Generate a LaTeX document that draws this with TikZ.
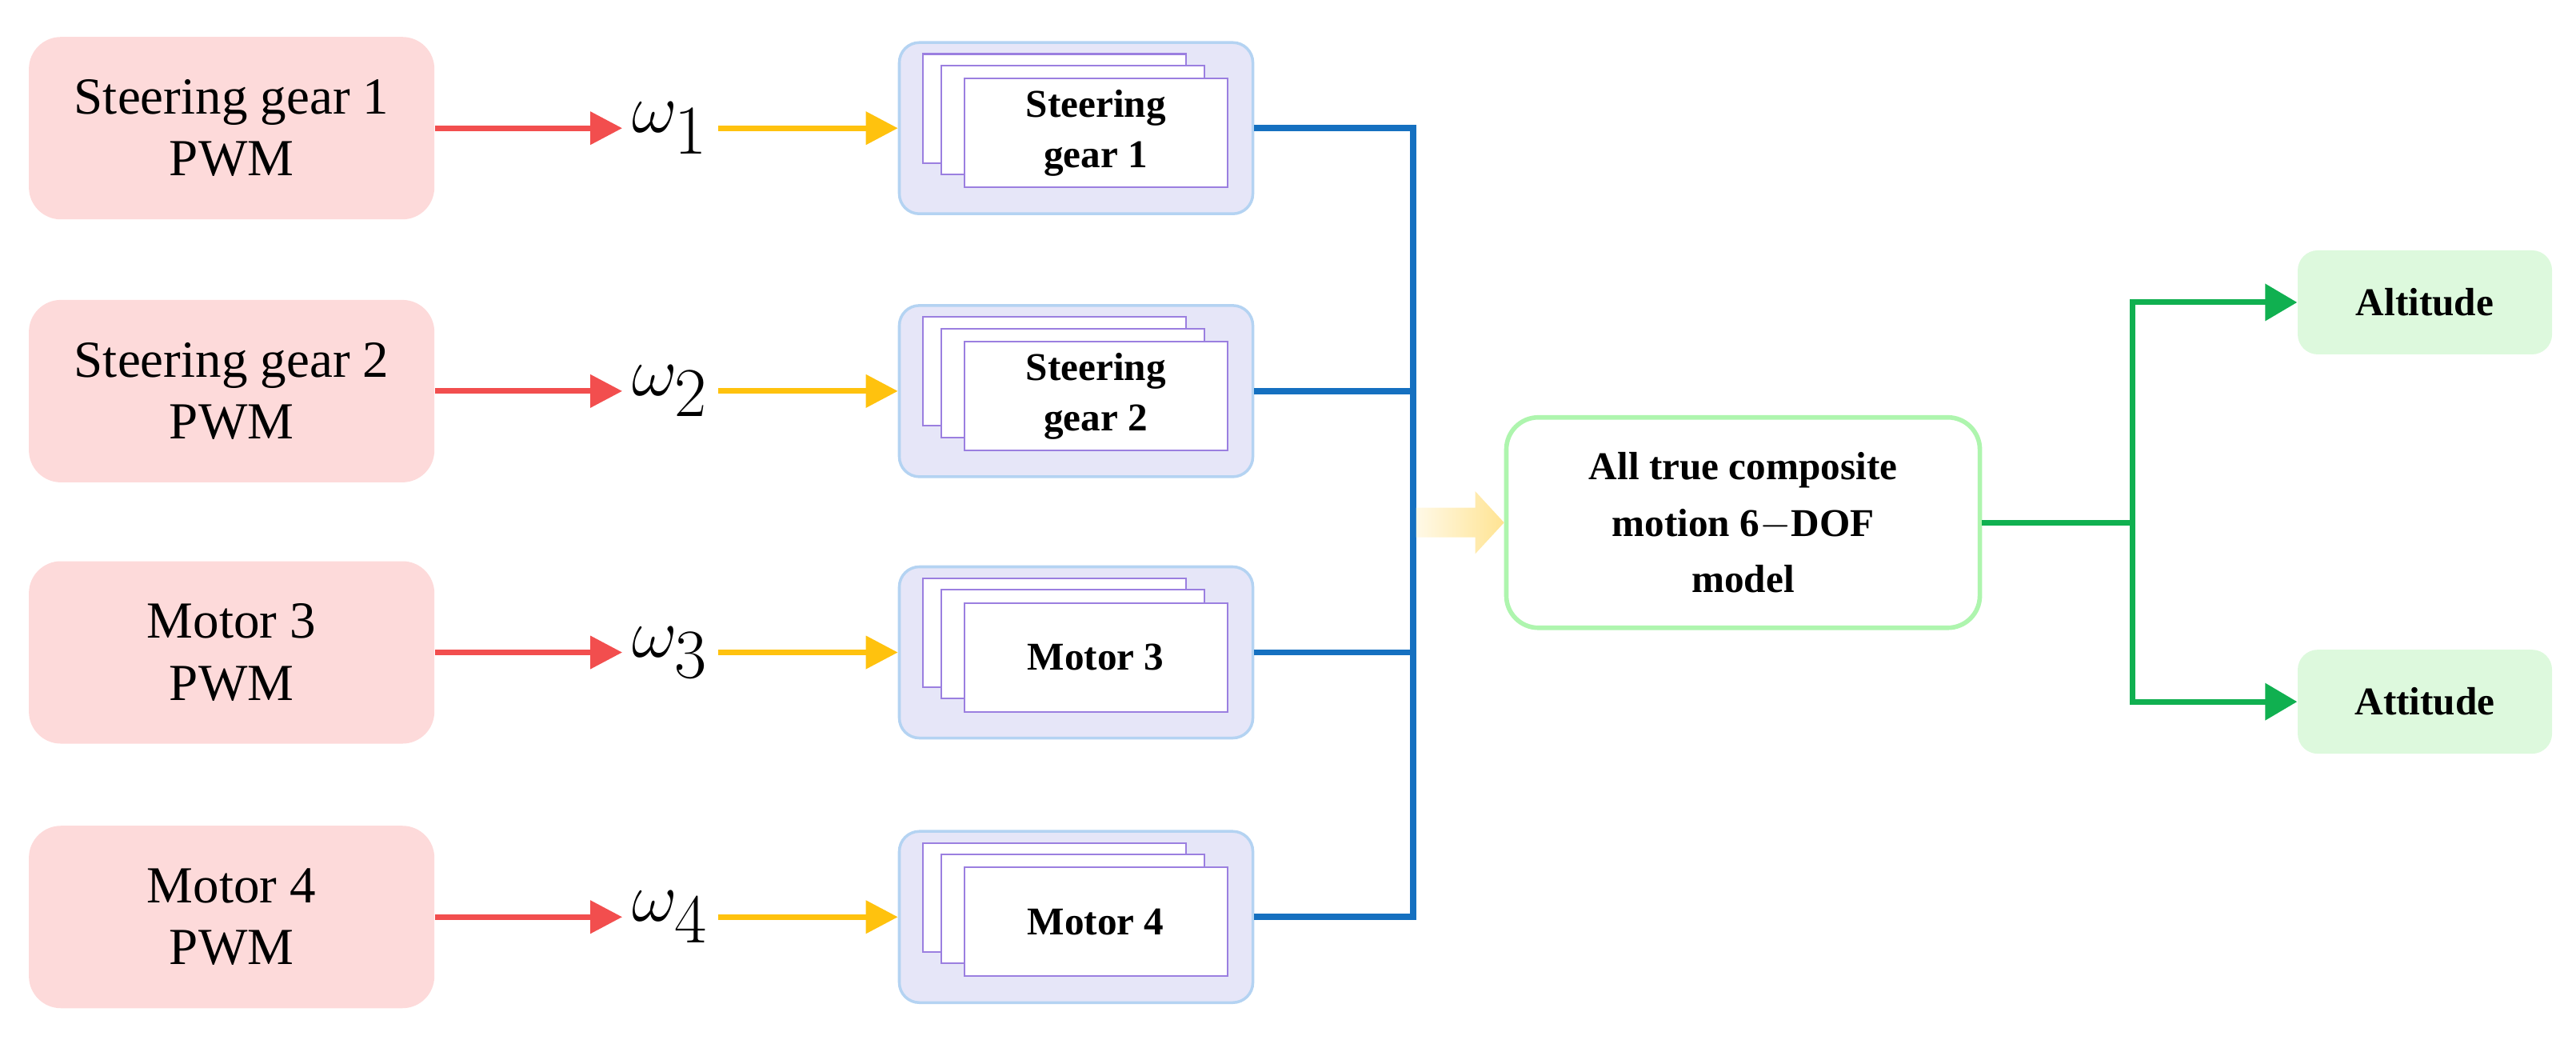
\documentclass[tikz,border=0pt]{standalone}
\usepackage{fontspec}
\setmainfont{Liberation Serif}
\usetikzlibrary{arrows.meta,shadings}
\definecolor{pinkbg}{HTML}{FDDADA}
\definecolor{redar}{HTML}{F24E4E}
\definecolor{yelar}{HTML}{FFC20E}
\definecolor{bluebg}{HTML}{E6E6F8}
\definecolor{blueed}{HTML}{B4D3F2}
\definecolor{purp}{HTML}{9B7FE0}
\definecolor{blueln}{HTML}{1570C0}
\definecolor{greenln}{HTML}{10B050}
\definecolor{greened}{HTML}{AEF5AE}
\definecolor{greenbg}{HTML}{DDF9DD}
\begin{document}
\begin{tikzpicture}[x=0.2054mm,y=-0.2054mm,
  pwm/.style={fill=pinkbg,draw=none,rounded corners=4mm,minimum width=50.7mm,minimum height=22.8mm,align=center,font=\fontsize{18.5}{22}\selectfont},
  blk/.style={fill=bluebg,draw=blueed,line width=1pt,rounded corners=2.5mm,minimum width=44.2mm,minimum height=21.4mm},
  card/.style={fill=white,draw=purp,line width=0.6pt,minimum width=32.9mm,minimum height=13.6mm},
  ra/.style={redar,line width=2pt,-{Triangle[length=4mm,width=4mm]}},
  ya/.style={yelar,line width=2pt,-{Triangle[length=4mm,width=4mm]}},
  bl/.style={blueln,line width=2.2pt},
  ga/.style={greenln,line width=2pt,-{Triangle[length=4mm,width=4.5mm]}},
  om/.style={font=\fontsize{33}{35}\selectfont},
  outb/.style={fill=greenbg,draw=none,rounded corners=2.5mm,minimum width=31.8mm,minimum height=13mm,font=\bfseries\fontsize{14}{16}\selectfont}
]
\useasboundingbox (0,0) rectangle (1568,635);
\foreach \i/\y/\t/\c in {1/78/Steering gear 1/Steering\\gear 1,2/238/Steering gear 2/Steering\\gear 2,3/397/Motor 3/Motor 3,4/558/Motor 4/Motor 4}{
  \node[pwm] (p\i) at (141,\y) {\t\\PWM};
  \node[om] (w\i) at (408,\y) {$\omega_{\i}$};
  \node[blk] (b\i) at (655,\y) {};
  \node[card] (cA\i) at (642,\y-12) {};
  \node[card] (cB\i) at (653,\y-5) {};
  \node[card,align=center,font=\bfseries\fontsize{14}{18}\selectfont] (c\i) at (667,\y+3) {\c};
  \draw[ra] (p\i.east) -- (w\i.west);
  \draw[ya] (w\i.east) -- (b\i.west);
  \coordinate (j\i) at (860,\y);
  \draw[bl] (b\i.east) -- (j\i);
}
\draw[bl] ([yshift=1.1pt]j1) -- ([yshift=-1.1pt]j4);
\node[draw=greened,line width=1.6pt,fill=white,rounded corners=4mm,minimum width=59.2mm,minimum height=26.3mm,align=center,font=\bfseries\fontsize{14}{20}\selectfont] (m) at (1061,318) {All true composite\\motion 6$-$DOF\\model};
\coordinate (ys) at (862,318);
\shade[left color=yelar!10,right color=yelar!45] (ys) ++(0,-9) -- ++(36,0) -- ++(0,-10) -- (m.west) -- (898,337) -- ++(0,-10) -- ++(-36,0) -- cycle;
\node[outb] (alt) at (1476,184) {Altitude};
\node[outb] (att) at (1476,427) {Attitude};
\coordinate (g) at (1298,318);
\draw[greenln,line width=2pt] (m.east) -- (g);
\draw[ga] (g) |- (alt.west);
\draw[ga] (g) |- (att.west);
\end{tikzpicture}
\end{document}
